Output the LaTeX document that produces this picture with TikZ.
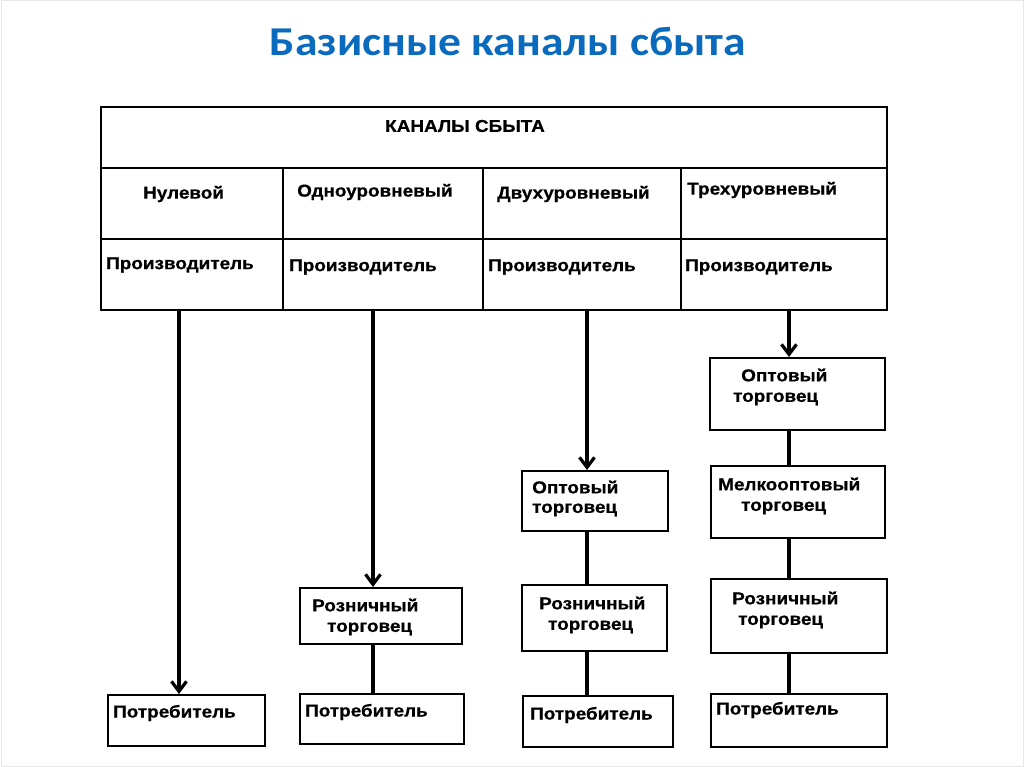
\documentclass[tikz,border=0pt]{standalone}
\usepackage{fontspec}
\setmainfont{Liberation Sans}
\newfontfamily\titlefont[FakeStretch=1.11]{Carlito}
\newfontfamily\boxfont[FakeStretch=1.1,FakeBold=0.6]{Liberation Sans}
\usetikzlibrary{arrows.meta}
\definecolor{titleblue}{HTML}{0A6BBE}
\tikzset{
  x=1pt,y=-1pt,
  box/.style={draw,line width=2pt,anchor=north west,inner sep=0pt},
  cell/.style={draw,line width=1.7pt,anchor=north west,inner sep=0pt},
  txt/.style={font=\boxfont\bfseries\fontsize{17.2}{20}\selectfont,inner sep=0pt,anchor=west},
  conn/.style={line width=3.2pt},
  arr/.style={line width=3.2pt,-{Straight Barb[length=10pt,width=15pt,line width=3.2pt]}},
}
\begin{document}
\begin{tikzpicture}
\useasboundingbox (0,0) rectangle (1024,767);
\draw[gray!18,line width=1pt] (1,1) rectangle (1023,766);
\node[font=\titlefont\bfseries\fontsize{41}{44}\selectfont,text=titleblue] (title) at (508,42) {Базисные каналы сбыта};
% table
\node[cell,minimum width=786pt,minimum height=61pt] (head) at (100,106) {};
\node[txt,anchor=center] (headt) at (465,126) {КАНАЛЫ СБЫТА};
\node[cell,minimum width=182pt,minimum height=71pt] (l1) at (100,167) {};
\node[cell,minimum width=200pt,minimum height=71pt] (l2) at (282,167) {};
\node[cell,minimum width=198pt,minimum height=71pt] (l3) at (482,167) {};
\node[cell,minimum width=206pt,minimum height=71pt] (l4) at (680,167) {};
\node[cell,minimum width=182pt,minimum height=71pt] (c1) at (100,238) {};
\node[cell,minimum width=200pt,minimum height=71pt] (c2) at (282,238) {};
\node[cell,minimum width=198pt,minimum height=71pt] (c3) at (482,238) {};
\node[cell,minimum width=206pt,minimum height=71pt] (c4) at (680,238) {};
\node[txt] (l1t) at (143,194) {Нулевой};
\node[txt] (l2t) at (297,192) {Одноуровневый};
\node[txt] (l3t) at (497,194) {Двухуровневый};
\node[txt] (l4t) at (687,190) {Трехуровневый};
\node[txt] (c1t) at (106,265) {Производитель};
\node[txt] (c2t) at (289,267) {Производитель};
\node[txt] (c3t) at (488,267) {Производитель};
\node[txt] (c4t) at (685,267) {Производитель};
% column 1
\node[box,minimum width=157pt,minimum height=51pt] (p1) at (107,694) {};
\node[txt] (p1t) at (113,713) {Потребитель};
% column 2
\node[box,minimum width=162pt,minimum height=56pt] (r2) at (299,587) {};
\node[txt] (r2a) at (312,605) {Розничный};
\node[txt] (r2b) at (327,629) {торговец};
\node[box,minimum width=164pt,minimum height=50pt] (p2) at (299,693) {};
\node[txt] (p2t) at (305,712) {Потребитель};
% column 3
\node[box,minimum width=146pt,minimum height=60pt] (o3) at (521,470) {};
\node[txt] (o3a) at (532,487) {Оптовый};
\node[txt] (o3b) at (532,510) {торговец};
\node[box,minimum width=145pt,minimum height=66pt] (r3) at (521,584) {};
\node[txt] (r3a) at (539,603) {Розничный};
\node[txt] (r3b) at (548,627) {торговец};
\node[box,minimum width=150pt,minimum height=51pt] (p3) at (522,695) {};
\node[txt] (p3t) at (530,715) {Потребитель};
% column 4
\node[box,minimum width=175pt,minimum height=72pt] (o4) at (709,357) {};
\node[txt] (o4a) at (741,375) {Оптовый};
\node[txt] (o4b) at (733,399) {торговец};
\node[box,minimum width=174pt,minimum height=72pt] (m4) at (710,465) {};
\node[txt] (m4a) at (718,484) {Мелкооптовый};
\node[txt] (m4b) at (741,508) {торговец};
\node[box,minimum width=176pt,minimum height=74pt] (r4) at (710,578) {};
\node[txt] (r4a) at (732,598) {Розничный};
\node[txt] (r4b) at (738,622) {торговец};
\node[box,minimum width=176pt,minimum height=53pt] (p4) at (710,693) {};
\node[txt] (p4t) at (716,710) {Потребитель};
% connector x positions
\coordinate (x1) at (179,0);
\coordinate (x2) at (373,0);
\coordinate (x3) at (587,0);
\coordinate (x4) at (789,0);
\draw[arr] (c1.south -| x1) -- (p1.north -| x1);
\draw[arr] (c2.south -| x2) -- (r2.north -| x2);
\draw[conn] (r2.south -| x2) -- (p2.north -| x2);
\draw[arr] (c3.south -| x3) -- (o3.north -| x3);
\draw[conn] (o3.south -| x3) -- (r3.north -| x3);
\draw[conn] (r3.south -| x3) -- (p3.north -| x3);
\draw[arr] (c4.south -| x4) -- (o4.north -| x4);
\draw[conn] (o4.south -| x4) -- (m4.north -| x4);
\draw[conn] (m4.south -| x4) -- (r4.north -| x4);
\draw[conn] (r4.south -| x4) -- (p4.north -| x4);
\end{tikzpicture}
\end{document}
